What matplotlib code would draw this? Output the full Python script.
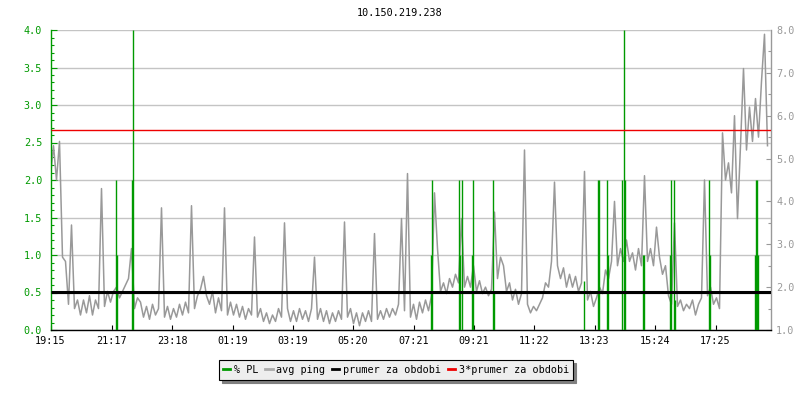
import numpy as np
import matplotlib
matplotlib.use("Agg")
import matplotlib.pyplot as plt
from matplotlib.ticker import MultipleLocator
from matplotlib.lines import Line2D

# ---------------- data ----------------
title = "10.150.219.238"
start_label = "19:15"
x_tick_labels = ["19:15", "21:17", "23:18", "01:19", "03:19", "05:20",
                 "07:21", "09:21", "11:22", "13:23", "15:24", "17:25"]
span_minutes = 1440          # one day shown
sample_step_min = 6          # spacing of the avg ping samples below

# average ping [ms] (right axis), one value every 6 minutes from 19:15
avg_ping = [
    4.6, 5.3, 4.5, 5.4, 2.7, 2.6, 1.6, 3.45, 1.5, 1.7,
    1.35, 1.7, 1.4, 1.8, 1.35, 1.7, 1.5, 4.3, 1.55, 1.9,
    1.65, 1.9, 2.0, 1.75, 1.9, 2.05, 2.2, 2.9, 1.5, 1.75,
    1.65, 1.3, 1.55, 1.25, 1.6, 1.35, 1.5, 3.85, 1.3, 1.55,
    1.25, 1.5, 1.3, 1.6, 1.35, 1.65, 1.4, 3.9, 1.5, 1.8,
    1.95, 2.25, 1.8, 1.6, 1.9, 1.4, 1.75, 1.45, 3.85, 1.35,
    1.65, 1.35, 1.6, 1.3, 1.55, 1.25, 1.5, 1.35, 3.17, 1.3,
    1.5, 1.2, 1.4, 1.15, 1.35, 1.2, 1.5, 1.3, 3.5, 1.5,
    1.2, 1.45, 1.2, 1.5, 1.25, 1.45, 1.2, 1.5, 2.7, 1.25,
    1.5, 1.2, 1.45, 1.15, 1.4, 1.2, 1.45, 1.25, 3.52, 1.3,
    1.5, 1.15, 1.4, 1.1, 1.4, 1.2, 1.45, 1.2, 3.25, 1.25,
    1.45, 1.25, 1.5, 1.3, 1.5, 1.35, 1.6, 3.6, 1.45, 4.65,
    1.3, 1.6, 1.25, 1.65, 1.4, 1.7, 1.45, 1.8, 4.2, 2.9,
    1.9, 2.1, 1.85, 2.2, 2.0, 2.3, 2.1, 3.6, 2.0, 2.25,
    2.0, 2.5, 1.9, 2.15, 1.85, 2.0, 1.8, 1.95, 3.75, 2.2,
    2.7, 2.5, 1.9, 2.1, 1.7, 1.95, 1.6, 1.85, 5.2, 1.6,
    1.4, 1.55, 1.45, 1.6, 1.75, 2.1, 2.0, 2.6, 4.45, 2.5,
    2.2, 2.45, 2.0, 2.3, 2.0, 2.25, 1.9, 2.1, 4.7, 1.7,
    1.9, 1.55, 1.75, 2.0, 1.85, 2.4, 2.2, 2.6, 4.0, 2.5,
    2.9, 2.6, 3.1, 2.6, 2.8, 2.4, 2.9, 2.5, 4.6, 2.6,
    2.9, 2.5, 3.4, 2.7, 2.3, 2.5, 1.8, 1.6, 3.5, 1.55,
    1.7, 1.45, 1.6, 1.5, 1.7, 1.35, 1.6, 1.75, 4.5, 1.8,
    2.0, 1.6, 1.75, 1.5, 5.6, 4.5, 4.9, 4.2, 6.0, 3.6,
    5.3, 7.1, 5.2, 6.2, 5.4, 6.4, 5.5, 6.8, 7.9, 5.3,
]

# packet loss [%] (left axis): minutes after 19:15 and value
pl_minutes = [131, 133, 163, 165, 761, 763, 817, 819, 823, 843, 845,
              885, 887, 1066, 1095, 1097, 1113, 1115, 1142, 1147, 1149,
              1184, 1186, 1238, 1240, 1246, 1248, 1317, 1319,
              1408, 1410, 1412, 1414]
pl_values = [2.0, 1.0, 2.0, 4.0, 1.0, 2.0, 2.0, 1.0, 2.0, 1.0, 2.0,
             2.0, 0.5, 0.65, 2.0, 2.0, 2.0, 1.0, 2.0, 4.0, 2.0,
             1.0, 1.0, 1.0, 2.0, 2.0, 0.4, 2.0, 1.0,
             1.0, 2.0, 2.0, 1.0]

mean_ping = 1.89                 # "prumer za obdobi"
triple_mean_ping = 3 * mean_ping  # "3*prumer za obdobi"

legend_labels = ["% PL", "avg ping", "prumer za obdobi", "3*prumer za obdobi"]

# ---------------- style ----------------
GREEN = "#009900"
GRAY = "#999999"
GRID = "#c4c4c4"
FONT = "DejaVu Sans Mono"
FS = 7.3
plt.rcParams["font.family"] = FONT

fig = plt.figure(figsize=(8, 4), dpi=100)
ax = fig.add_axes([50.5 / 800, 70 / 400, 720 / 800, 300 / 400])
ax2 = ax.twinx()

ax.set_zorder(2)
ax2.set_zorder(1)
ax.patch.set_visible(False)

ax.set_xlim(0, span_minutes)
ax.set_ylim(0, 4.0)
ax2.set_ylim(1.0, 8.0)

ax.yaxis.set_major_locator(MultipleLocator(0.5))
ax.yaxis.set_minor_locator(MultipleLocator(0.1))
ax.grid(axis="y", which="major", color=GRID, lw=1.0)
ax.set_axisbelow(True)

# avg ping, drawn with the right-axis scale
t_ping = np.arange(len(avg_ping)) * sample_step_min
ax.plot(t_ping, avg_ping, color=GRAY, lw=1.1, transform=ax2.transData,
        zorder=2, antialiased=True)

# packet loss bars (one crisp vertical line per sample)
for t, v in zip(pl_minutes, pl_values):
    ax.plot([t, t], [0, v], color=GREEN, lw=1.0, zorder=3,
            solid_capstyle="butt", snap=True, antialiased=True)

# mean lines
ax.plot([0, span_minutes], [mean_ping, mean_ping], color="black", lw=2.2,
        transform=ax2.transData, zorder=4, solid_capstyle="butt")
ax.plot([0, span_minutes], [triple_mean_ping, triple_mean_ping], color="#ee0000",
        lw=1.0, transform=ax2.transData, zorder=4, solid_capstyle="butt")

def minutes_after_start(lbl):
    h, m = map(int, lbl.split(":"))
    h0, m0 = map(int, start_label.split(":"))
    return (h * 60 + m - (h0 * 60 + m0)) % 1440

ax.set_xticks([minutes_after_start(l) for l in x_tick_labels])
ax.set_xticklabels(x_tick_labels)
ax.tick_params(axis="x", direction="in", length=3.8, width=0.8, color="black",
               labelsize=FS, pad=4, labelcolor="black")

ax.yaxis.set_major_formatter(plt.FuncFormatter(lambda v, p: f"{v:.1f}"))
ax.tick_params(axis="y", which="major", direction="in", length=4, width=0.8,
               color=GREEN, labelcolor=GREEN, labelsize=FS, pad=6)
ax.tick_params(axis="y", which="minor", direction="in", length=2.4, width=0.8,
               color=GREEN)

ax2.yaxis.set_major_locator(MultipleLocator(1.0))
ax2.yaxis.set_minor_locator(MultipleLocator(0.5))
ax2.yaxis.set_major_formatter(plt.FuncFormatter(lambda v, p: f"{v:.1f}"))
ax2.tick_params(axis="y", which="major", direction="in", length=3.5, width=0.8,
                color=GRAY, labelcolor=GRAY, labelsize=FS, pad=4)
ax2.tick_params(axis="y", which="minor", direction="in", length=2.4, width=0.8,
                color=GRAY)

for s in ["top", "right"]:
    ax.spines[s].set_visible(False)
ax.spines["left"].set_color(GREEN)
ax.spines["left"].set_linewidth(1.0)
ax.spines["bottom"].set_color("black")
ax.spines["bottom"].set_linewidth(1.0)
for s in ["top", "left", "bottom"]:
    ax2.spines[s].set_visible(False)
ax2.spines["right"].set_color(GRAY)
ax2.spines["right"].set_linewidth(1.0)

fig.text(0.5, 1 - 13 / 400, title, ha="center", va="center", fontsize=FS,
         color="black", family=FONT)

handles = [Line2D([], [], color=c, lw=2) for c in [GREEN, "#aaaaaa", "black", "#ee0000"]]
leg = fig.legend(handles, legend_labels, loc="center", ncol=4,
                 bbox_to_anchor=(396 / 800, 1 - 370 / 400),
                 prop={"family": FONT, "size": FS},
                 frameon=True, fancybox=False,
                 shadow={"ox": 2.2, "oy": -2.2, "color": "#808080", "alpha": 1},
                 edgecolor="black", facecolor="#eeeeee", framealpha=1,
                 handlelength=0.7, handletextpad=0.35, columnspacing=0.7,
                 borderpad=0.45, borderaxespad=0)
leg.get_frame().set_linewidth(0.8)

fig.savefig("out.png", dpi=100)
